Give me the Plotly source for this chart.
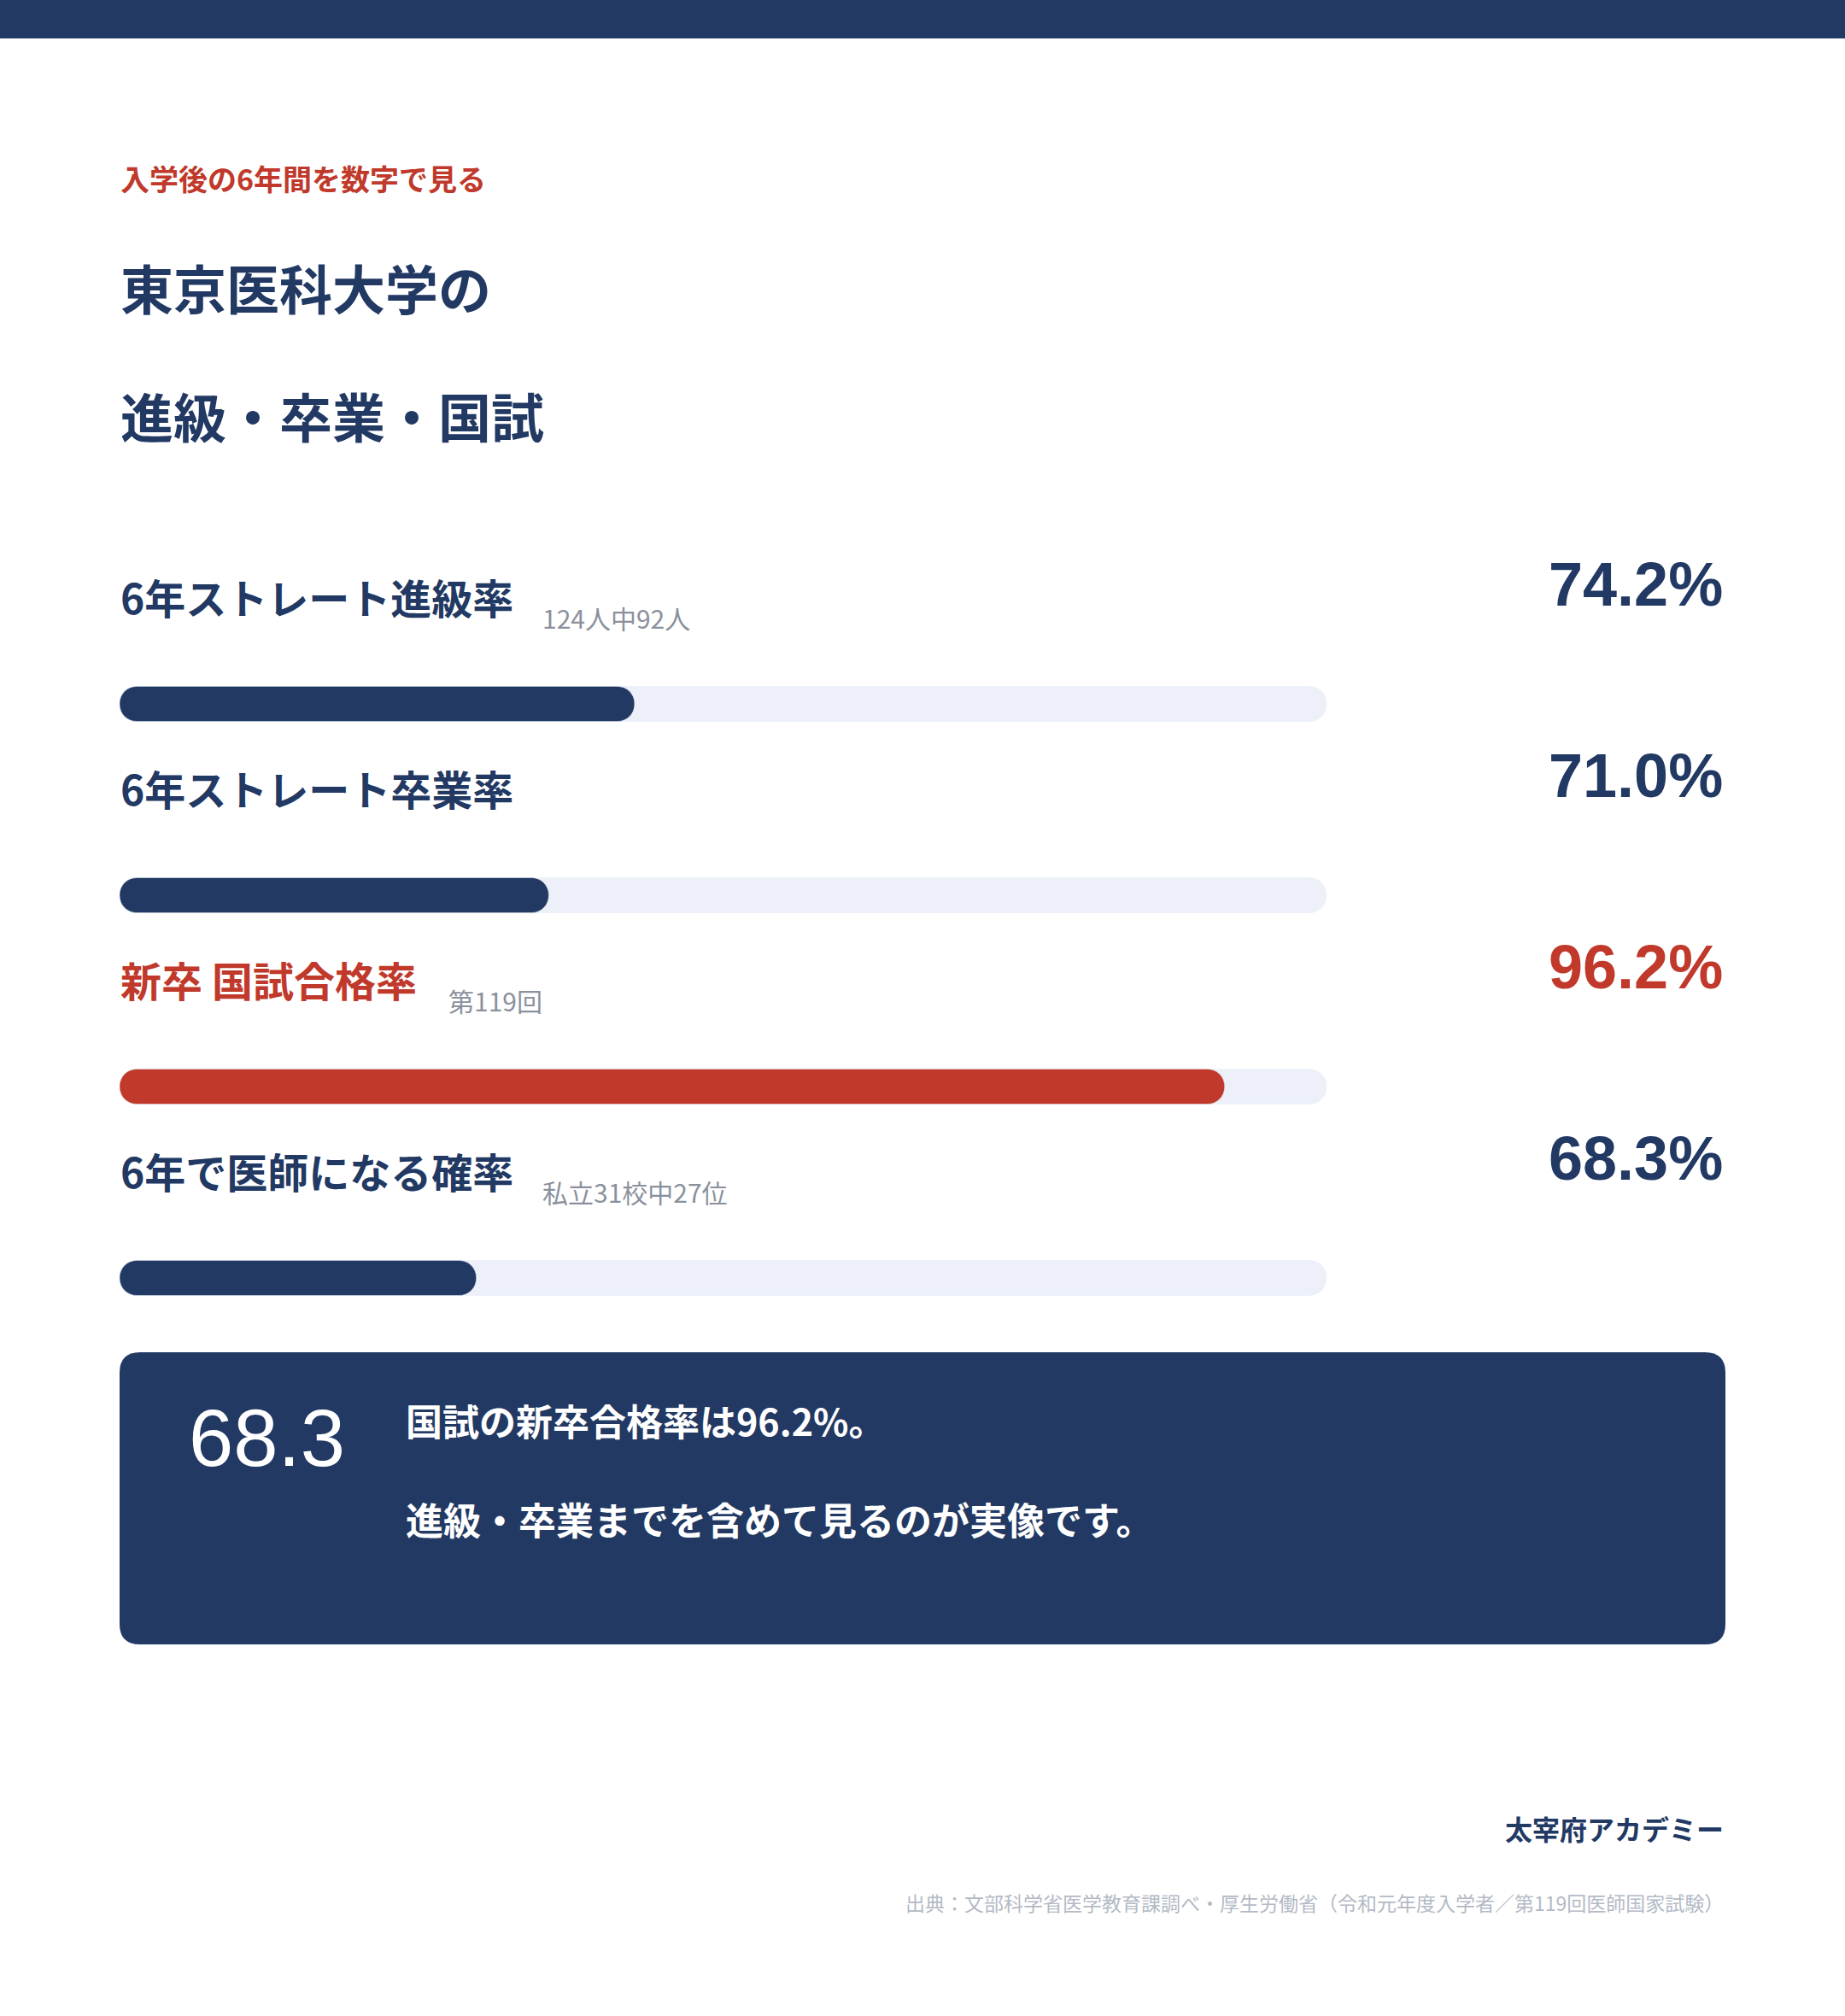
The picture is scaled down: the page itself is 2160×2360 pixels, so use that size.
import plotly.graph_objects as go

W, H = 2160, 2360

# --- data ---
kicker = "入学後の6年間を数字で見る"
title_lines = ["東京医科大学の", "進級・卒業・国試"]
labels = ["6年ストレート進級率", "6年ストレート卒業率", "新卒 国試合格率", "6年で医師になる確率"]
notes = ["124人中92人", "", "第119回", "私立31校中27位"]
rates = [74.2, 71.0, 96.2, 68.3]
scale_min, scale_max = 55, 100
highlight = "新卒 国試合格率"
callout_lines = ["国試の新卒合格率は96.2%。", "進級・卒業までを含めて見るのが実像です。"]
brand = "太宰府アカデミー"
source = "出典：文部科学省医学教育課調べ・厚生労働省（令和元年度入学者／第119回医師国家試験）"

NAVY = "#223963"
RED = "#c0392b"
TRACK = "#edf0f8"
GRAY = "#8a919d"
LIGHT = "#b3bac6"
FONT = "Noto Sans CJK JP"
NUM_FONT = "Liberation Sans, Arial, sans-serif"


def px(x):
    return x / W


def py(y):
    # y measured from the top of the page
    return 1 - y / H


def text_w(s, size):
    # rough advance width of a label, used to place the small note after it
    w = 0
    for ch in s:
        if ch == " ":
            w += 0.25
        elif ord(ch) < 128:
            w += 0.55
        else:
            w += 1.0
    return w * size


colors = [RED if lab == highlight else NAVY for lab in labels]

fig = go.Figure()

# background tracks
fig.add_trace(go.Bar(
    y=labels, x=[scale_max - scale_min] * len(labels), base=scale_min,
    orientation="h", width=0.183, marker=dict(color=TRACK, cornerradius=20),
    hoverinfo="skip",
))
# filled part
fig.add_trace(go.Bar(
    y=labels, x=[r - scale_min for r in rates], base=scale_min,
    orientation="h", width=0.183, marker=dict(color=colors, cornerradius=20),
    hovertemplate="%{y}: %{customdata}%<extra></extra>", customdata=rates,
))

ann = []

# header texts
ann.append(dict(x=px(139), y=py(209), text=f"<b>{kicker}</b>",
                font=dict(size=34, color=RED)))
for i, line in enumerate(title_lines):
    ann.append(dict(x=px(139), y=py(336 + 150 * i), text=f"<b>{line}</b>",
                    font=dict(size=62, color=NAVY)))

# row labels, notes and values
for lab, note, rate, col in zip(labels, notes, rates, colors):
    ann.append(dict(x=px(139), xref="paper", y=lab, yref="y", yshift=126,
                    text=f"<b>{lab}</b>", font=dict(size=48, color=col)))
    if note:
        ann.append(dict(x=px(139 + text_w(lab, 48) + 36), xref="paper", y=lab, yref="y",
                        yshift=101, text=note, font=dict(size=30, color=GRAY)))
    ann.append(dict(x=px(2019), xref="paper", xanchor="right", y=lab, yref="y", yshift=140,
                    text=f"<b>{rate:.1f}%</b>", font=dict(size=72, color=col, family=NUM_FONT)))

# callout box
ann.append(dict(x=px(219), y=py(1683), text=f"{rates[3]:.1f}",
                font=dict(size=94, color="white", family=NUM_FONT)))
for i, (line, size) in enumerate(zip(callout_lines, [43, 44])):
    ann.append(dict(x=px(473), y=py(1662 + 116 * i), text=f"<b>{line}</b>",
                    font=dict(size=size, color="white")))

# footer
ann.append(dict(x=px(2020), xanchor="right", y=py(2140), text=f"<b>{brand}</b>",
                font=dict(size=32, color=NAVY)))
ann.append(dict(x=px(2020), xanchor="right", y=py(2227), text=source,
                font=dict(size=23, color=LIGHT)))

for a in ann:
    a.setdefault("xref", "paper")
    a.setdefault("yref", "paper")
    a.setdefault("xanchor", "left")
    a.setdefault("yanchor", "middle")
    a["showarrow"] = False


def rounded_rect(x0, y0, x1, y1, r):
    pts = [
        ("M", [(x0 + r, y0)]), ("L", [(x1 - r, y0)]), ("Q", [(x1, y0), (x1, y0 + r)]),
        ("L", [(x1, y1 - r)]), ("Q", [(x1, y1), (x1 - r, y1)]),
        ("L", [(x0 + r, y1)]), ("Q", [(x0, y1), (x0, y1 - r)]),
        ("L", [(x0, y0 + r)]), ("Q", [(x0, y0), (x0 + r, y0)]),
    ]
    path = ""
    for cmd, coords in pts:
        path += cmd + " " + " ".join(f"{px(x):.5f},{py(y):.5f}" for x, y in coords) + " "
    return path + "Z"


shapes = [
    dict(type="rect", xref="paper", yref="paper", x0=0, x1=1, y0=py(45), y1=1,
         fillcolor=NAVY, line=dict(width=0), layer="below"),
    dict(type="path", xref="paper", yref="paper", path=rounded_rect(140, 1583, 2020, 1925, 24),
         fillcolor=NAVY, line=dict(width=0), layer="below"),
]

fig.update_layout(
    width=W, height=H,
    margin=dict(l=0, r=0, t=0, b=0),
    paper_bgcolor="white", plot_bgcolor="white",
    font=dict(family=FONT),
    barmode="overlay", showlegend=False,
    xaxis=dict(domain=[px(140), px(1553)], range=[scale_min, scale_max], visible=False, fixedrange=True),
    yaxis=dict(domain=[py(1608), py(712)], type="category", categoryorder="array",
               categoryarray=labels, range=[len(labels) - 0.5, -0.5], visible=False, fixedrange=True),
    annotations=ann, shapes=shapes,
)

# page has no body margin in the reference
fig.write_html("out.html", config={"displayModeBar": False},
               post_script="document.body.style.margin='0';")
